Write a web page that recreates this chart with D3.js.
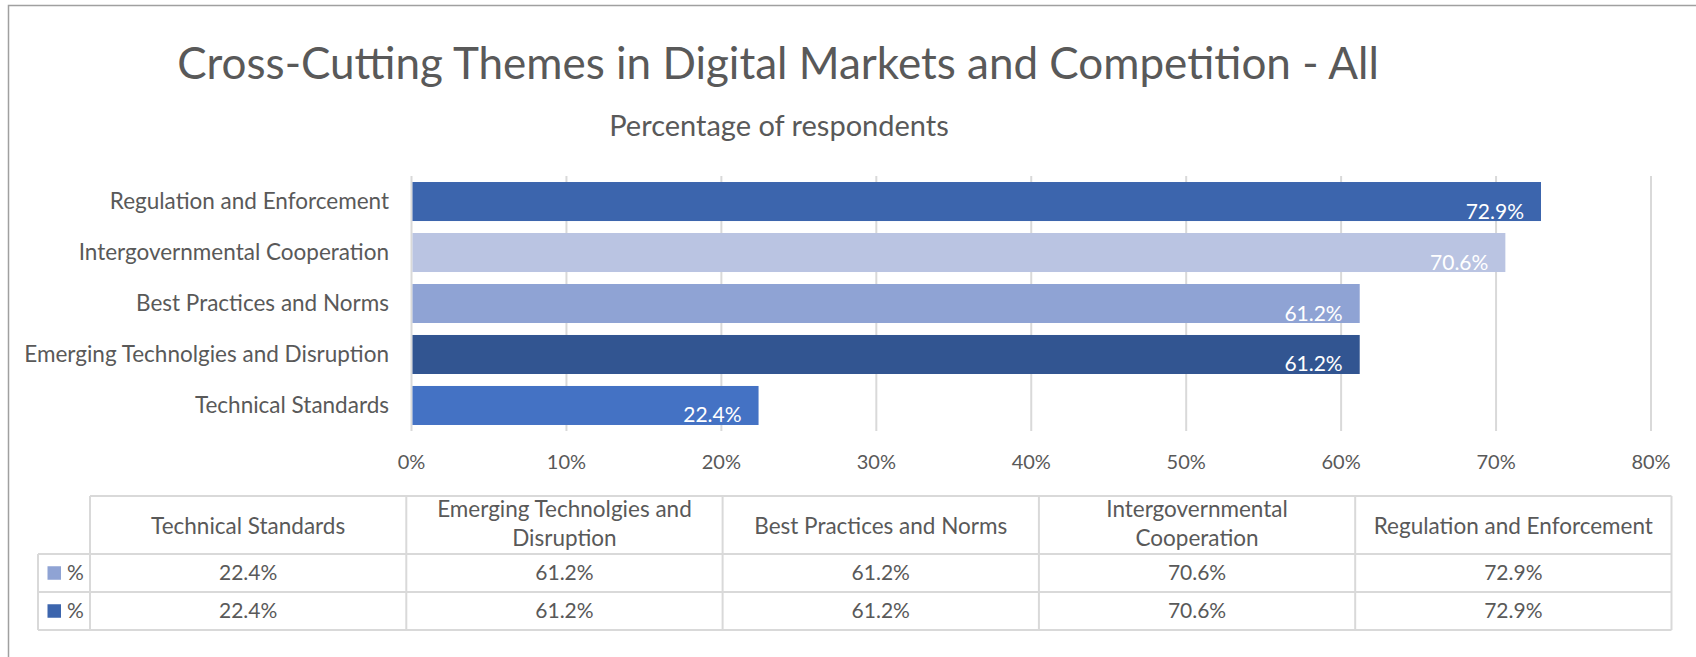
<!DOCTYPE html>
<html><head><meta charset="utf-8">
<script src="https://cdn.jsdelivr.net/npm/d3@7"></script>
<style>body{margin:0;background:#fff} svg{display:block} text{font-family:Lato, "Open Sans", sans-serif; fill:#595959}</style>
</head><body><svg id="c" width="1696" height="657"></svg>
<script>
const categories = ["Regulation and Enforcement","Intergovernmental Cooperation","Best Practices and Norms","Emerging Technolgies and Disruption","Technical Standards"];
const values = [72.9,70.6,61.2,61.2,22.4];
const barColors = ["#3c65ad","#bac4e2","#8fa3d4","#325591","#4472c4"];
const tickValues = [0,10,20,30,40,50,60,70,80];
const tableCategories = ["Technical Standards","Emerging Technolgies and Disruption","Best Practices and Norms","Intergovernmental Cooperation","Regulation and Enforcement"];
const tableHeaderLines = [["Technical Standards"],["Emerging Technolgies and","Disruption"],["Best Practices and Norms"],["Intergovernmental","Cooperation"],["Regulation and Enforcement"]];
const tableSeriesNames = ["%","%"];
const tableSeriesColors = ["#8fa3d4","#3c65ad"];
const tableValues = [[22.4,61.2,61.2,70.6,72.9],[22.4,61.2,61.2,70.6,72.9]];

const svg = d3.select("#c");
const grid = "#d9d9d9";
// outer chart border
svg.append("rect").attr("x",8.5).attr("y",5.5).attr("width",2000).attr("height",2000)
  .attr("fill","none").attr("stroke","#a0a0a0").attr("stroke-width",1.5);

svg.append("text").attr("x",778).attr("y",79).attr("text-anchor","middle")
  .style("font-size","44px").text("Cross-Cutting Themes in Digital Markets and Competition - All");
svg.append("text").attr("x",779).attr("y",136).attr("text-anchor","middle")
  .style("font-size","29px").text("Percentage of respondents");

const x = d3.scaleLinear().domain([0,80]).range([411.5,1651]);
const y = d3.scaleBand().domain(categories).range([176,431]).paddingInner(0.235).paddingOuter(0.118);

// gridlines
svg.append("g").selectAll("line").data(tickValues).join("line")
  .attr("x1",d=>x(d)).attr("x2",d=>x(d)).attr("y1",176).attr("y2",431)
  .attr("stroke",grid).attr("stroke-width",2);

// x tick labels
svg.append("g").selectAll("text").data(tickValues).join("text")
  .attr("x",d=>x(d)).attr("y",469).attr("text-anchor","middle")
  .style("font-size","20px").text(d=>d+"%");

// bars
svg.append("g").selectAll("rect").data(categories).join("rect")
  .attr("x",x(0)+1).attr("y",d=>y(d)).attr("width",(d,i)=>x(values[i])-x(0)-1)
  .attr("height",y.bandwidth()).attr("fill",(d,i)=>barColors[i]);

// value labels
svg.append("g").selectAll("text").data(categories).join("text")
  .attr("x",(d,i)=>x(values[i])-17).attr("y",d=>y(d)+y.bandwidth()-2.5)
  .attr("text-anchor","end").style("font-size","21px").style("fill","#fff")
  .text((d,i)=>values[i].toFixed(1)+"%");

// category labels
svg.append("g").selectAll("text").data(categories).join("text")
  .attr("x",389).attr("y",d=>y(d)+y.bandwidth()/2).attr("dy","0.35em")
  .attr("text-anchor","end").style("font-size","22.5px").text(d=>d);

// data table
const cx = d3.scaleBand().domain(tableCategories).range([90,1671.5]);
const ry = d3.scaleBand().domain(d3.range(tableSeriesNames.length)).range([554,630]);
const headTop = 496, legL = 38;
const tg = svg.append("g").attr("stroke",grid).attr("stroke-width",2);
tg.append("line").attr("x1",90).attr("x2",1671.5).attr("y1",headTop).attr("y2",headTop);
[554,592,630].forEach(v=>tg.append("line").attr("x1",legL).attr("x2",1671.5).attr("y1",v).attr("y2",v));
tg.append("line").attr("x1",legL).attr("x2",legL).attr("y1",554).attr("y2",630);
tableCategories.forEach(c=>tg.append("line").attr("x1",cx(c)).attr("x2",cx(c)).attr("y1",headTop).attr("y2",630));
tg.append("line").attr("x1",1671.5).attr("x2",1671.5).attr("y1",headTop).attr("y2",630);

tableCategories.forEach((c,i)=>{
  const lines = tableHeaderLines[i];
  const mid = (headTop+554)/2 + (lines.length>1 ? -1.5 : 1);
  const lh = 29;
  lines.forEach((t,j)=>{
    svg.append("text").attr("x",cx(c)+cx.bandwidth()/2)
      .attr("y",mid + (j-(lines.length-1)/2)*lh).attr("dy","0.35em")
      .attr("text-anchor","middle").style("font-size","22.5px").text(t);
  });
});
tableSeriesNames.forEach((s,r)=>{
  const cy = ry(r)+ry.bandwidth()/2;
  svg.append("rect").attr("x",47.5).attr("y",cy-6.75).attr("width",13.5).attr("height",13.5).attr("fill",tableSeriesColors[r]);
  svg.append("text").attr("x",67).attr("y",cy).attr("dy","0.35em").style("font-size","21px").text(s);
  tableCategories.forEach((c,i)=>{
    svg.append("text").attr("x",cx(c)+cx.bandwidth()/2).attr("y",cy).attr("dy","0.35em")
      .attr("text-anchor","middle").style("font-size","21px").text(tableValues[r][i].toFixed(1)+"%");
  });
});
</script></body></html>
